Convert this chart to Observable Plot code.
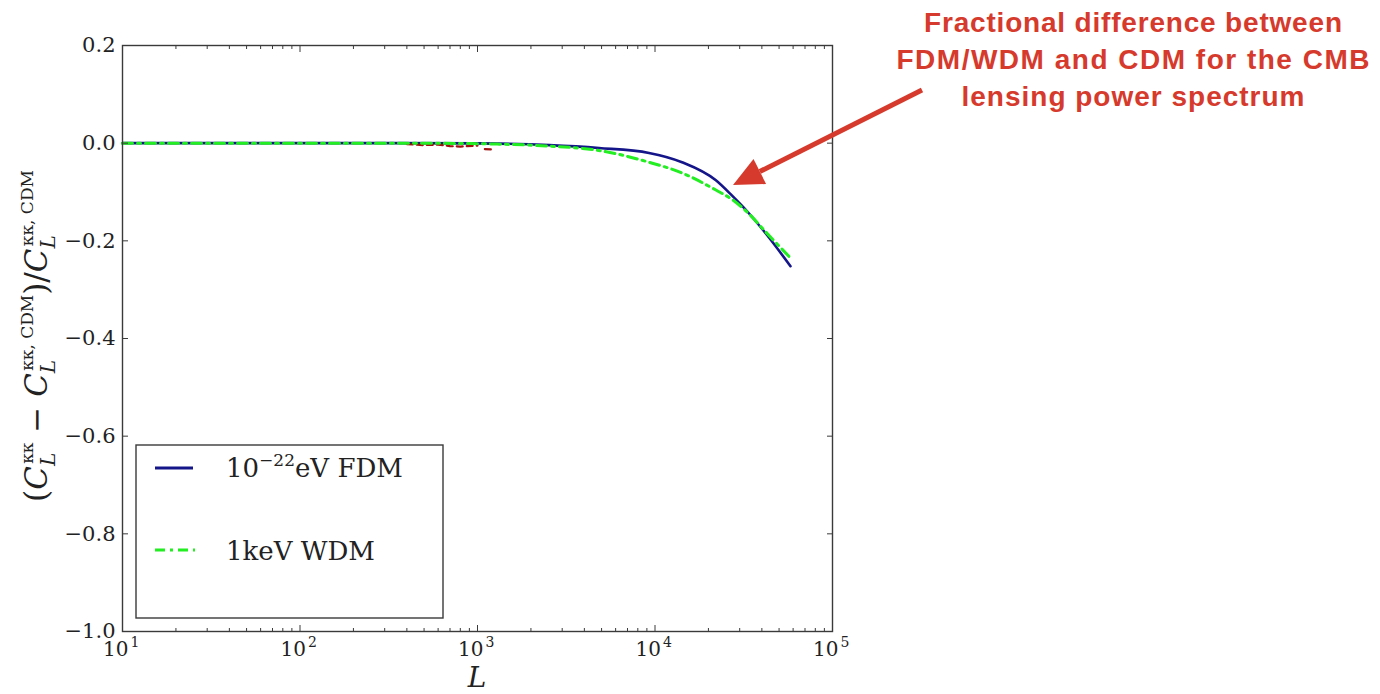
<!DOCTYPE html>
<html>
<head>
<meta charset="utf-8">
<script src="https://cdn.jsdelivr.net/npm/d3@7"></script>
<script src="https://cdn.jsdelivr.net/npm/@observablehq/plot@0.6"></script>
<style>
  html, body { margin: 0; padding: 0; background: #fff; }
  #chart { position: relative; width: 1380px; height: 694px; }
  #chart svg { overflow: visible; }
</style>
</head>
<body>
<div id="chart"></div>
<script>
// ---- data ----
const L_FDM = [10, 100, 300, 1000, 1330, 2540, 4840, 9250, 14190, 22030, 27100, 33700, 42100, 58000];
const V_FDM = [0, 0, 0, -0.0005, -0.001, -0.004, -0.010, -0.020, -0.039, -0.076, -0.107, -0.143, -0.185, -0.252];
const L_WDM = [10, 100, 300, 1000, 1330, 2540, 4840, 9250, 14190, 22030, 27100, 33700, 42100, 59000];
const V_WDM = [0, 0, 0, -0.001, -0.002, -0.006, -0.015, -0.039, -0.061, -0.096, -0.115, -0.144, -0.182, -0.238];
// faint red residual dashes seen in the reference
const L_RED = [400, 500, 600, 700, 800, 1000];
const V_RED = [-0.002, -0.004, -0.003, -0.006, -0.007, -0.005];
const L_RED2 = [1100, 1250];
const V_RED2 = [-0.012, -0.013];

const xMajor = [10, 100, 1000, 10000, 100000];
const xExp = ["1", "2", "3", "4", "5"];
const xMinor = [];
for (const d of [10, 100, 1000, 10000]) for (let k = 2; k <= 9; k++) xMinor.push(d * k);
const yTicks = [-1.0, -0.8, -0.6, -0.4, -0.2, 0.0, 0.2];

const seriesNames = ["eV FDM", "1keV WDM"];
const annotationLines = ["Fractional difference between", "FDM/WDM and CDM for the CMB", "lensing power spectrum"];

const fdm = L_FDM.map((L, i) => ({L, v: V_FDM[i]}));
const wdm = L_WDM.map((L, i) => ({L, v: V_WDM[i]}));
const red = L_RED.map((L, i) => ({L, v: V_RED[i], g: 1})).concat(L_RED2.map((L, i) => ({L, v: V_RED2[i], g: 2})));

const AX = "#3a3a3a";
const serif = "DejaVu Serif";

const chart = Plot.plot({
  width: 1380,
  height: 694,
  marginLeft: 122,
  marginRight: 548,
  marginTop: 45,
  marginBottom: 63,
  style: {fontFamily: serif, background: "#fff", color: "#222"},
  x: {type: "log", domain: [10, 100000]},
  y: {domain: [-1.0, 0.2]},
  marks: [
    Plot.line(fdm, {x: "L", y: "v", stroke: "#15158a", strokeWidth: 2.6, curve: "monotone-x"}),
    Plot.line(red, {x: "L", y: "v", z: "g", stroke: "#a01010", strokeWidth: 2.2, strokeDasharray: "6,4"}),
    Plot.line(wdm, {x: "L", y: "v", stroke: "#22ee22", strokeWidth: 3, strokeDasharray: "10,5,3,5", curve: "monotone-x"}),
    Plot.frame({stroke: AX, strokeWidth: 1.4}),
    // inward ticks on all four sides
    Plot.axisX({anchor: "bottom", ticks: xMajor, tickSize: -6, tickFormat: () => "", stroke: AX, label: null}),
    Plot.axisX({anchor: "top", ticks: xMajor, tickSize: -6, tickFormat: () => "", stroke: AX, label: null}),
    Plot.axisX({anchor: "bottom", ticks: xMinor, tickSize: -3, tickFormat: () => "", stroke: AX, label: null}),
    Plot.axisX({anchor: "top", ticks: xMinor, tickSize: -3, tickFormat: () => "", stroke: AX, label: null}),
    Plot.axisY({anchor: "left", ticks: yTicks, tickSize: -6, tickFormat: () => "", stroke: AX, label: null}),
    Plot.axisY({anchor: "right", ticks: yTicks, tickSize: -6, tickFormat: () => "", stroke: AX, label: null}),
    Plot.axisY({anchor: "left", ticks: yTicks, tickSize: 0, tickPadding: 7, tickFormat: d3.format(".1f"),
      fontSize: 21, fontFamily: serif, fill: "#222", label: null}),
    // x tick labels 10^n
    Plot.text(xMajor, {x: d => d, frameAnchor: "bottom", dy: 24, dx: 6, text: () => "10", textAnchor: "end",
      lineAnchor: "bottom", fontSize: 20, fontFamily: serif, fill: "#222"}),
    Plot.text(xMajor, {x: d => d, frameAnchor: "bottom", dy: 15, dx: 8, text: (d, i) => xExp[i], textAnchor: "start",
      lineAnchor: "bottom", fontSize: 14, fontFamily: serif, fill: "#222"})
  ]
});
document.getElementById("chart").appendChild(chart);

const svg = d3.select(chart);

// ---- y axis label (math) ----
const yl = svg.append("text")
  .attr("transform", "translate(47,336) rotate(-90)")
  .attr("text-anchor", "middle")
  .attr("font-family", serif)
  .attr("font-size", 31)
  .attr("fill", "#222");
function cTerm(sup) {
  yl.append("tspan").attr("font-style", "italic").text("C");
  yl.append("tspan").attr("font-style", "italic").attr("font-size", 20).attr("dy", 8).text("L");
  yl.append("tspan").attr("font-size", 17).attr("dx", -11).attr("dy", -22).text(sup);
}
yl.append("tspan").text("(");
cTerm("\u03BA\u03BA");
yl.append("tspan").attr("dy", 14).text(" \u2212 ");
cTerm("\u03BA\u03BA, CDM");
yl.append("tspan").attr("dy", 14).text(")/");
cTerm("\u03BA\u03BA, CDM");

// ---- x axis label ----
svg.append("text")
  .attr("x", 477).attr("y", 687)
  .attr("text-anchor", "middle")
  .attr("font-family", serif).attr("font-style", "italic")
  .attr("font-size", 28).attr("fill", "#222")
  .text("L");

// ---- legend ----
const lg = svg.append("g").attr("text-anchor", "start");
lg.append("rect").attr("x", 136).attr("y", 445).attr("width", 307).attr("height", 173)
  .attr("fill", "#fff").attr("stroke", AX).attr("stroke-width", 1.4);
lg.append("line").attr("x1", 155).attr("x2", 193).attr("y1", 468).attr("y2", 468)
  .attr("stroke", "#15158a").attr("stroke-width", 3);
lg.append("line").attr("x1", 155).attr("x2", 195).attr("y1", 550).attr("y2", 550)
  .attr("stroke", "#22ee22").attr("stroke-width", 3).attr("stroke-dasharray", "10,5,3,5");
const t1 = lg.append("text").attr("x", 226).attr("y", 477).attr("text-anchor", "start")
  .attr("font-family", serif).attr("font-size", 26).attr("fill", "#222");
t1.append("tspan").text("10");
t1.append("tspan").attr("font-size", 17).attr("dy", -11).text("\u221222");
t1.append("tspan").attr("dy", 11).text(seriesNames[0]);
lg.append("text").attr("x", 226).attr("y", 560).attr("text-anchor", "start")
  .attr("font-family", serif).attr("font-size", 26).attr("fill", "#222")
  .text(seriesNames[1]);

// ---- annotation ----
const RED = "#d63a2c";
const ann = svg.append("g");
const widths = [418, 473, 343];
const baselines = [32, 69, 106];
annotationLines.forEach((s, i) => {
  ann.append("text").attr("x", 1133).attr("y", baselines[i])
    .attr("text-anchor", "middle")
    .attr("font-family", "Liberation Sans, Arial, sans-serif")
    .attr("font-weight", "bold").attr("font-size", 28)
    .attr("fill", RED)
    .attr("textLength", widths[i]).attr("lengthAdjust", "spacing")
    .text(s);
});
// arrow
const tip = [733, 185], tail = [922, 90];
const dx = tip[0] - tail[0], dy = tip[1] - tail[1];
const len = Math.hypot(dx, dy), ux = dx / len, uy = dy / len;
const hl = 30, hw = 14;
const base = [tip[0] - ux * hl, tip[1] - uy * hl];
ann.append("line").attr("x1", tail[0]).attr("y1", tail[1]).attr("x2", base[0]).attr("y2", base[1])
  .attr("stroke", RED).attr("stroke-width", 5);
ann.append("polygon")
  .attr("points", [tip, [base[0] - uy * hw, base[1] + ux * hw], [base[0] + uy * hw, base[1] - ux * hw]].map(p => p.join(",")).join(" "))
  .attr("fill", RED);
</script>
</body>
</html>
